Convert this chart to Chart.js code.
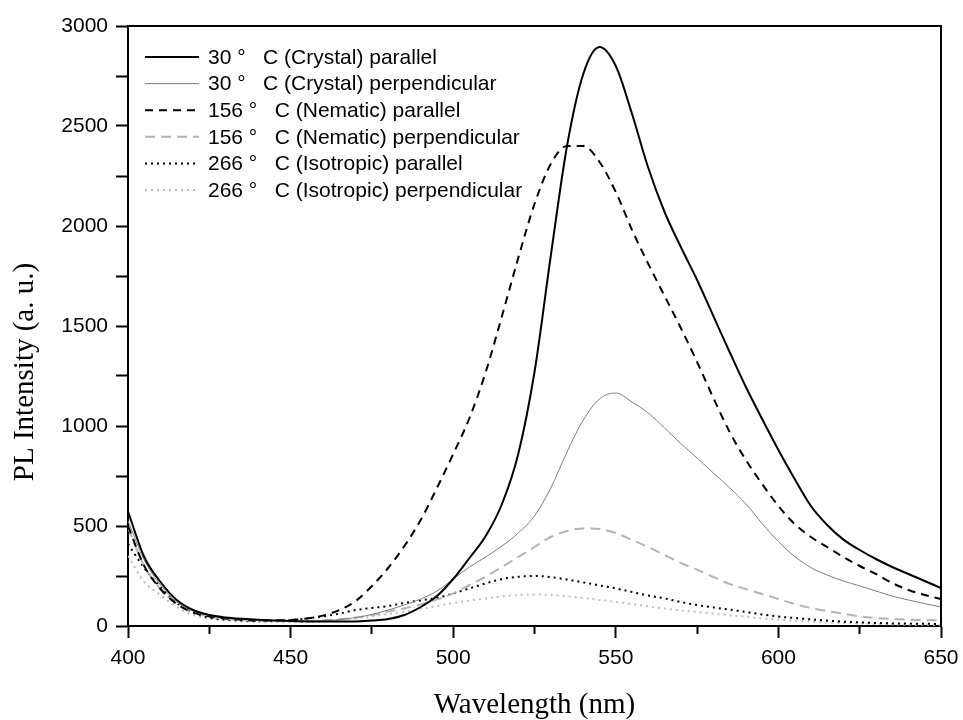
<!DOCTYPE html>
<html>
<head>
<meta charset="utf-8">
<script src="https://cdn.jsdelivr.net/npm/chart.js@4.4.0/dist/chart.umd.min.js"></script>
<style>
html, body { margin: 0; padding: 0; background: #fff; }
#wrap { width: 963px; height: 720px; position: relative; }
</style>
</head>
<body>
<div id="wrap"><canvas id="plChart"></canvas></div>
<script>
// wavelength grid (nm), every 5 nm
const wavelengths = [400, 405, 410, 415, 420, 425, 430, 435, 440, 445, 450, 455, 460, 465, 470, 475, 480, 485, 490, 495,
    500, 505, 510, 515, 520, 525, 530, 535, 540, 545, 550, 555, 560, 565, 570, 575, 580, 585, 590, 595,
    600, 605, 610, 615, 620, 625, 630, 635, 640, 645, 650];

// PL intensity
const crystalPar = [572, 345, 220, 130, 80, 55, 43, 36, 31, 28, 25, 23, 22, 22, 23, 27, 35, 55, 95, 150,
    235, 340, 450, 610, 860, 1270, 1850, 2400, 2760, 2895, 2800, 2560, 2290, 2070, 1895, 1730, 1550, 1370, 1195, 1035,
    880, 735, 600, 505, 432, 380, 335, 295, 260, 225, 190];
const crystalPerp = [525, 330, 205, 120, 75, 52, 40, 34, 30, 27, 25, 25, 27, 32, 42, 58, 80, 105, 135, 175,
    235, 295, 345, 400, 465, 550, 690, 870, 1030, 1135, 1165, 1120, 1065, 990, 912, 840, 765, 692, 610, 512,
    422, 348, 292, 255, 225, 200, 175, 150, 130, 112, 95];
const nematicPar = [500, 300, 185, 110, 68, 48, 37, 31, 28, 28, 30, 38, 52, 80, 125, 200, 290, 400, 530, 690,
    860, 1040, 1270, 1550, 1840, 2110, 2310, 2400, 2400, 2320, 2170, 1980, 1810, 1650, 1490, 1320, 1140, 970, 830, 710,
    600, 510, 445, 395, 345, 300, 260, 215, 180, 155, 135];
const nematicPerp = [490, 300, 185, 110, 68, 47, 36, 30, 27, 25, 24, 25, 28, 34, 42, 55, 72, 88, 108, 132,
    163, 205, 247, 295, 345, 395, 445, 475, 488, 485, 465, 430, 395, 355, 315, 282, 245, 210, 185, 160,
    135, 110, 90, 75, 62, 48, 40, 35, 32, 30, 28];
const isoPar = [410, 290, 195, 115, 68, 42, 32, 27, 26, 27, 30, 38, 48, 62, 80, 90, 100, 115, 128, 140,
    163, 188, 213, 235, 246, 250, 245, 232, 218, 203, 188, 170, 152, 138, 120, 105, 93, 82, 70, 58,
    47, 40, 33, 27, 22, 18, 15, 13, 12, 11, 10];
const isoPerp = [350, 220, 155, 95, 55, 37, 28, 23, 20, 19, 19, 21, 24, 30, 38, 48, 60, 72, 85, 100,
    115, 127, 138, 148, 155, 158, 155, 148, 140, 130, 120, 110, 98, 87, 78, 70, 62, 54, 46, 38,
    32, 27, 22, 18, 15, 12, 10, 8, 7, 6, 5];

const seriesLabels = [
    '30 \u00b0   C (Crystal) parallel',
    '30 \u00b0   C (Crystal) perpendicular',
    '156 \u00b0   C (Nematic) parallel',
    '156 \u00b0   C (Nematic) perpendicular',
    '266 \u00b0   C (Isotropic) parallel',
    '266 \u00b0   C (Isotropic) perpendicular'
];
const xTickLabels = [400, 450, 500, 550, 600, 650];
const yTickLabels = [0, 500, 1000, 1500, 2000, 2500, 3000];

const sansFont = "'Liberation Sans', Arial, sans-serif";
const serifFont = "'Liberation Serif', 'Times New Roman', serif";

function toPoints(values) {
    return values.map((v, i) => ({ x: wavelengths[i], y: v }));
}

// Box frame (top + right edges)
const framePlugin = {
    id: 'frame',
    afterDatasetsDraw(chart) {
        const { ctx, chartArea } = chart;
        ctx.save();
        ctx.strokeStyle = '#000';
        ctx.lineWidth = 2;
        ctx.beginPath();
        ctx.moveTo(chartArea.left, chartArea.top);
        ctx.lineTo(chartArea.right, chartArea.top);
        ctx.lineTo(chartArea.right, chartArea.bottom);
        ctx.stroke();
        ctx.restore();
    }
};

// Legend inside the plot, top-left
const insideLegend = {
    id: 'insideLegend',
    afterDatasetsDraw(chart) {
        const { ctx } = chart;
        ctx.save();
        ctx.font = '21px ' + sansFont;
        ctx.textBaseline = 'middle';
        ctx.textAlign = 'left';
        chart.data.datasets.forEach((ds, i) => {
            const y = 57 + i * 26.6;
            ctx.strokeStyle = ds.borderColor;
            ctx.lineWidth = ds.borderWidth;
            ctx.lineCap = 'butt';
            ctx.setLineDash(ds.borderDash || []);
            ctx.beginPath();
            ctx.moveTo(145, y);
            ctx.lineTo(199, y);
            ctx.stroke();
            ctx.setLineDash([]);
            ctx.fillStyle = '#000';
            ctx.fillText(ds.label, 208, y + 1);
        });
        ctx.restore();
    }
};

// Y axis title (sits a bit below the axis centre in the original)
const yTitlePlugin = {
    id: 'yTitle',
    afterDraw(chart) {
        const { ctx } = chart;
        ctx.save();
        ctx.translate(25, 372);
        ctx.rotate(-Math.PI / 2);
        ctx.font = '29px ' + serifFont;
        ctx.fillStyle = '#000';
        ctx.textAlign = 'center';
        ctx.textBaseline = 'middle';
        ctx.fillText('PL Intensity (a. u.)', 0, 0);
        ctx.restore();
    }
};

function lineSet(label, data, color, width, dash) {
    return {
        label: label,
        data: toPoints(data),
        borderColor: color,
        borderWidth: width,
        borderDash: dash,
        borderCapStyle: 'butt',
        pointRadius: 0,
        fill: false,
        cubicInterpolationMode: 'monotone'
    };
}

const ctx = document.getElementById('plChart').getContext('2d');
new Chart(ctx, {
    type: 'line',
    data: {
        datasets: [
            lineSet(seriesLabels[0], crystalPar, '#000000', 2, []),
            lineSet(seriesLabels[1], crystalPerp, '#7f7f7f', 1, []),
            lineSet(seriesLabels[2], nematicPar, '#000000', 2, [8, 6]),
            lineSet(seriesLabels[3], nematicPerp, '#b4b4b4', 2, [10, 6]),
            lineSet(seriesLabels[4], isoPar, '#000000', 2, [2, 4]),
            lineSet(seriesLabels[5], isoPerp, '#bdbdbd', 2, [2, 4])
        ]
    },
    plugins: [framePlugin, insideLegend, yTitlePlugin],
    options: {
        responsive: true,
        maintainAspectRatio: false,
        animation: false,
        devicePixelRatio: 1,
        layout: {
            padding: { top: 26, right: 22, left: 0, bottom: 0 }
        },
        plugins: {
            legend: { display: false },
            tooltip: { enabled: false }
        },
        scales: {
            x: {
                type: 'linear',
                min: 400,
                max: 650,
                afterFit: (scale) => {
                    scale.height = 94;
                    scale.paddingLeft = 0;
                    scale.paddingRight = 0;
                },
                border: { display: true, color: '#000', width: 2 },
                grid: {
                    drawOnChartArea: false,
                    drawTicks: true,
                    tickLength: 12,
                    tickWidth: 2,
                    tickColor: '#000',
                    tickBorderDash: (c) => (xTickLabels.includes(c.tick.value) ? [] : [7, 100])
                },
                ticks: {
                    stepSize: 25,
                    padding: 8,
                    color: '#000',
                    maxRotation: 0,
                    autoSkip: false,
                    font: { family: sansFont, size: 21 },
                    callback: (v) => (xTickLabels.includes(v) ? String(v) : '')
                },
                title: {
                    display: true,
                    text: 'Wavelength (nm)',
                    color: '#000',
                    font: { family: serifFont, size: 29, lineHeight: 1 },
                    padding: { top: 0, bottom: 0 }
                }
            },
            y: {
                type: 'linear',
                min: 0,
                max: 3000,
                afterFit: (scale) => {
                    scale.width = 128;
                    scale.paddingTop = 0;
                    scale.paddingBottom = 0;
                },
                border: { display: true, color: '#000', width: 2 },
                grid: {
                    drawOnChartArea: false,
                    drawTicks: true,
                    tickLength: 12,
                    tickWidth: 2,
                    tickColor: '#000'
                },
                ticks: {
                    stepSize: 250,
                    padding: 8,
                    color: '#000',
                    autoSkip: false,
                    font: { family: sansFont, size: 21 },
                    callback: (v) => (yTickLabels.includes(v) ? String(v) : '')
                }
            }
        }
    }
});
</script>
</body>
</html>
